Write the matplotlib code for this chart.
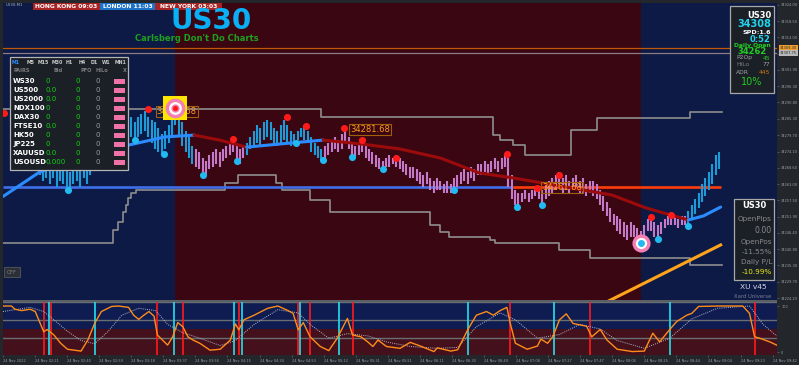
import numpy as np
import matplotlib
matplotlib.use('Agg')
from matplotlib import pyplot as plt
from matplotlib.patches import Rectangle
from matplotlib.transforms import blended_transform_factory

# ---------------- data ----------------
# M1 bars, one drawn every 2 bars, starting at bar 22
bar_start = 22
bar_high = [
    34272, 34271, 34273, 34270, 34272, 34269, 34271, 34268, 34270, 34267,
    34270, 34272, 34271, 34273, 34270, 34272, 34274, 34275, 34277, 34278,
    34279, 34280, 34281, 34280, 34282, 34283, 34285, 34286, 34284, 34286,
    34287, 34288, 34286, 34285, 34284, 34282, 34280, 34281, 34283, 34286,
    34291, 34288, 34284, 34281, 34279, 34276, 34275, 34274, 34272, 34271,
    34273, 34274, 34275, 34274, 34275, 34276, 34277, 34278, 34276, 34275,
    34276, 34277, 34279, 34281, 34283, 34282, 34284, 34285, 34284, 34282,
    34281, 34283, 34285, 34283, 34281, 34280, 34281, 34282, 34283, 34281,
    34279, 34277, 34276, 34275, 34276, 34277, 34278, 34279, 34278, 34280,
    34282, 34279, 34277, 34276, 34277, 34278, 34276, 34275, 34274, 34273,
    34272, 34271, 34272, 34273, 34272, 34273, 34272, 34271, 34270, 34269,
    34269, 34268, 34267, 34266, 34267, 34265, 34264, 34265, 34264, 34263,
    34264, 34263, 34265, 34266, 34267, 34268, 34267, 34269, 34268, 34270,
    34270, 34271, 34270, 34271, 34272, 34271, 34272, 34273, 34272, 34266,
    34261, 34260, 34260, 34261, 34260, 34261, 34262, 34262, 34261, 34263,
    34264, 34265, 34266, 34267, 34265, 34266, 34264, 34265, 34266, 34264,
    34265, 34263, 34264, 34264, 34263, 34261, 34259, 34257, 34255, 34253,
    34252, 34251, 34250, 34249, 34250, 34249, 34248, 34247, 34249, 34251,
    34252, 34250, 34249, 34250, 34251, 34252, 34253, 34252, 34251, 34252,
    34252, 34254, 34256, 34258, 34260, 34263, 34265, 34267, 34270, 34273, 34274,
]
bar_low = [
    34266, 34264, 34265, 34263, 34265, 34262, 34264, 34263, 34262, 34261,
    34263, 34264, 34262, 34265, 34263, 34266, 34268, 34270, 34271, 34272,
    34273, 34274, 34275, 34274, 34276, 34277, 34278, 34279, 34277, 34279,
    34280, 34281, 34279, 34277, 34275, 34274, 34273, 34275, 34277, 34279,
    34283, 34279, 34276, 34274, 34272, 34270, 34269, 34268, 34267, 34266,
    34268, 34269, 34270, 34269, 34271, 34272, 34273, 34274, 34271, 34270,
    34272, 34273, 34275, 34276, 34277, 34276, 34278, 34279, 34278, 34276,
    34276, 34277, 34278, 34277, 34276, 34277, 34278, 34279, 34278, 34277,
    34274, 34273, 34272, 34271, 34272, 34273, 34274, 34275, 34274, 34275,
    34277, 34275, 34273, 34272, 34273, 34274, 34272, 34271, 34270, 34269,
    34268, 34268, 34269, 34269, 34270, 34269, 34268, 34267, 34266, 34265,
    34265, 34264, 34263, 34262, 34263, 34261, 34260, 34261, 34261, 34260,
    34260, 34260, 34261, 34262, 34263, 34264, 34263, 34265, 34264, 34266,
    34266, 34267, 34266, 34267, 34268, 34267, 34268, 34269, 34262, 34258,
    34256, 34256, 34257, 34258, 34257, 34258, 34259, 34258, 34256, 34258,
    34259, 34260, 34261, 34262, 34260, 34261, 34260, 34261, 34262, 34260,
    34260, 34259, 34260, 34259, 34258, 34256, 34254, 34252, 34250, 34249,
    34247, 34246, 34245, 34244, 34245, 34245, 34244, 34243, 34245, 34247,
    34247, 34245, 34244, 34246, 34248, 34249, 34249, 34249, 34248, 34249,
    34249, 34249, 34251, 34253, 34255, 34257, 34259, 34261, 34263, 34266, 34268,
]

# trend regimes (bar index where each starts)
trend_start = [0, 113, 144, 189, 404]
trend_up = [True, False, True, False, True]

# moving average
ma_idx = [0, 22, 46, 69, 96, 113, 128, 144, 164, 189, 211, 234, 258, 281, 301,
          322, 359, 379, 404, 413, 423]
ma_price = [34258.6, 34267.1, 34271.9, 34275.6, 34279.1, 34279.7, 34278.0,
            34275.6, 34276.7, 34278.0, 34276.7, 34275.0, 34271.9, 34266.8,
            34265.1, 34263.0, 34259.3, 34254.9, 34250.8, 34252.2, 34255.2]

# swing highs / lows
red_idx = [1, 86, 136, 168, 179, 201, 212, 232, 297, 315, 328, 382, 394]
red_price = [34287.2, 34288.5, 34278.4, 34285.9, 34282.8, 34282.1, 34278.0,
             34271.9, 34273.2, 34261.7, 34266.1, 34251.8, 34252.5]
blue_idx = [39, 78, 95, 118, 138, 173, 189, 206, 224, 266, 303, 318, 386, 404]
blue_price = [34261.0, 34278.0, 34273.3, 34266.1, 34270.9, 34277.0, 34271.2,
              34272.2, 34268.2, 34261.0, 34255.2, 34255.9, 34244.3, 34248.8]

# step bands
upper_idx = [0, 188, 289, 293, 301, 308, 335, 350, 405, 424]
upper_price = [34288.6, 34285.9, 34279.7, 34278.0, 34276.3, 34272.9, 34281.4,
               34285.5, 34287.6, 34287.6]
lower_idx = [0, 65, 68, 71, 73, 74, 76, 79, 131, 139, 161, 165, 181, 193, 252,
             258, 263, 287, 290, 328, 346, 405, 424]
lower_price = [34243.0, 34247.4, 34250.1, 34253.5, 34255.9, 34258.3, 34260.0,
               34261.0, 34263.4, 34266.1, 34263.4, 34261.0, 34257.6, 34253.5,
               34249.1, 34246.7, 34245.0, 34244.0, 34243.0, 34240.6, 34237.9,
               34235.5, 34235.5]

trend_line_idx = [356, 423]
trend_line_price = [34222.9, 34242.3]

open_price = 34262.0
open_switch = 301
level_orange = 34309.30
level_grey = 34307.75

targets = [(102, 34288.9), (376, 34243.0)]
price_tags = [(91, 34287.6, '34288.68'), (205, 34281.7, '34281.68'),
              (318, 34262.0, '34261.68')]

session_edges = [0.5, 102, 376, 456.2]
session_colors = ['#0c1a45', '#3a0612', '#0c1a45']

price_ticks = [34324.00, 34318.50, 34313.00, 34307.40, 34301.90, 34296.30,
               34290.80, 34285.30, 34279.70, 34274.10, 34268.60, 34263.00,
               34257.50, 34251.90, 34246.40, 34240.80, 34235.30, 34229.70,
               34224.20]

time_labels = ['24 Nov 2022', '24 Nov 02:21', '24 Nov 02:40', '24 Nov 02:59',
               '24 Nov 03:18', '24 Nov 03:37', '24 Nov 03:56', '24 Nov 04:15',
               '24 Nov 04:34', '24 Nov 04:53', '24 Nov 05:12', '24 Nov 05:31',
               '24 Nov 05:51', '24 Nov 06:11', '24 Nov 06:30', '24 Nov 06:49',
               '24 Nov 07:08', '24 Nov 07:27', '24 Nov 07:47', '24 Nov 08:06',
               '24 Nov 08:25', '24 Nov 08:44', '24 Nov 09:04', '24 Nov 09:23',
               '24 Nov 09:42']
bars_per_label = 18.9

# oscillator (bar index, value)
osc_line = [(0, 100), (5, 100), (7, 93), (11, 90), (16, 93), (19, 88), (24, 44),
            (26, 49), (30, 37), (34, 19), (38, 6), (46, 2), (50, 26), (54, 62),
            (58, 88), (64, 99), (68, 100), (74, 97), (77, 80), (80, 71), (83, 80),
            (86, 88), (89, 78), (91, 37), (97, 15), (100, 33), (103, 64), (106, 55),
            (109, 33), (112, 26), (116, 19), (122, 4), (128, 6), (134, 26), (137, 61),
            (139, 48), (142, 70), (148, 80), (156, 95), (162, 100), (168, 90),
            (171, 84), (174, 48), (177, 64), (181, 33), (187, 12), (192, 3), (197, 30),
            (203, 73), (206, 37), (211, 33), (215, 22), (218, 12), (221, 26), (226, 12),
            (234, 8), (240, 21), (246, 13), (254, 1), (256, 9), (264, 2), (268, 5),
            (274, 49), (279, 80), (285, 88), (289, 80), (293, 90), (297, 97), (299, 62),
            (302, 19), (309, 6), (315, 13), (317, 28), (321, 19), (324, 33), (328, 70),
            (332, 83), (336, 62), (344, 56), (347, 33), (352, 49), (356, 26), (362, 6),
            (371, 1), (378, 2), (383, 41), (387, 22), (393, 49), (397, 66), (403, 80),
            (406, 84), (410, 99), (421, 100), (436, 100), (440, 84), (443, 33),
            (446, 30), (452, 22), (456, 15)]
osc_signal = [(0, 88), (16, 97), (24, 88), (30, 70), (38, 45), (46, 25), (54, 18),
              (62, 45), (70, 80), (80, 95), (90, 90), (97, 60), (106, 42), (116, 30),
              (128, 14), (137, 25), (148, 60), (162, 92), (174, 85), (181, 60),
              (192, 30), (203, 40), (215, 35), (226, 22), (240, 12), (256, 8),
              (268, 10), (279, 55), (293, 85), (302, 70), (315, 30), (328, 38),
              (340, 60), (352, 50), (362, 25), (378, 8), (393, 30), (406, 72),
              (421, 95), (440, 100), (448, 60), (456, 35)]
cross_idx = [24, 27, 28, 54, 91, 101, 106, 136, 139, 141, 174, 175, 181, 198,
             206, 274, 299, 325, 346, 393, 443]
cross_up = [False, True, False, True, False, True, False, True, False, True,
            False, True, False, True, False, True, False, True, False, True, False]

# dashboard texts
tf_names = ['M1', 'M5', 'M15', 'M30', 'H1', 'H4', 'D1', 'W1', 'MN1']
pairs = ['WS30', 'US500', 'US2000', 'NDX100', 'DAX30', 'FTSE10', 'HK50',
         'JP225', 'XAUUSD', 'USOUSD']
pair_bid = ['0', '0.0', '0.0', '0', '0', '0.0', '0', '0', '0.0', '0.000']
pair_pfo = ['0'] * 10
pair_hilo = ['0'] * 10
sessions = [('HONG KONG 09:03', '#a82424'), ('LONDON 11:03', '#1e72c8'),
            ('NEW YORK 03:03', '#a82424')]

# ---------------- figure ----------------
W, H = 799, 365
fig = plt.figure(figsize=(W / 100, H / 100), dpi=100, facecolor='#23272c')


def fx(px):
    return px / W


def fy(py):
    return 1 - py / H


def ftext(px, py, s, **kw):
    kw.setdefault('ha', 'left')
    kw.setdefault('va', 'center')
    fig.text(fx(px), fy(py), s, **kw)


def frect(x0, y0, x1, y1, **kw):
    fig.patches.append(Rectangle((fx(x0), fy(y1)), fx(x1) - fx(x0), fy(y0) - fy(y1),
                                 transform=fig.transFigure, figure=fig, **kw))


CYAN = '#1d9bd9'
PINK = '#c479c9'
GRID_TXT = '#9aa0a6'

# main price pane
ax = fig.add_axes([fx(3), fy(300), fx(777) - fx(3), fy(3) - fy(300)])
ax.set_xlim(0.5, 456.2)
ax.set_ylim(34223.55, 34324.68)
for s in ax.spines.values():
    s.set_visible(False)
for i in range(len(session_colors)):
    ax.axvspan(session_edges[i], session_edges[i + 1], color=session_colors[i], lw=0, zorder=0)

ax.axhline(level_orange, color='#c0580a', lw=0.9, zorder=1)
ax.axhline(level_grey, color='#8c7d84', lw=0.9, zorder=1)

ax.step(upper_idx, upper_price, where='post', color='#8e8e8e', lw=1.2, zorder=2)
ax.step(lower_idx, lower_price, where='post', color='#8e8e8e', lw=1.2, zorder=2)

xl = ax.get_xlim()[0]
ax.hlines(open_price, xl, open_switch, color='#3f6fe8', lw=1.9, zorder=3)
ax.hlines(open_price, open_switch, 423, color='#ff3d0a', lw=1.9, zorder=3)

bar_idx = bar_start + 2 * np.arange(len(bar_high))
reg = np.searchsorted(trend_start, bar_idx, side='right') - 1
bar_col = np.where(np.array(trend_up)[reg], CYAN, PINK)
ax.vlines(bar_idx, bar_low, bar_high, colors=bar_col, lw=1.5, zorder=4)

ma_x = np.array(ma_idx)
ma_y = np.array(ma_price)
edges = trend_start + [ma_idx[-1]]
for k in range(len(trend_start)):
    m = (ma_x >= edges[k]) & (ma_x <= edges[k + 1])
    ax.plot(ma_x[m], ma_y[m], color='#2a8cff' if trend_up[k] else '#9c0b0b',
            lw=2.2, zorder=5, solid_capstyle='round')

ax.plot(trend_line_idx, trend_line_price, color='#ffa41b', lw=2.2, zorder=5)

ax.scatter(red_idx, red_price, s=26, color='#ff1a1a', zorder=7, lw=0)
ax.scatter(blue_idx, blue_price, s=26, color='#22b8f0', zorder=7, lw=0)

for bx, by, txt in price_tags:
    ax.text(bx, by, txt, color='#ff9a1a', fontsize=6, va='center', ha='left', zorder=6,
            bbox=dict(boxstyle='square,pad=0.12', fc='none', ec='#a0600a', lw=0.8))

# target markers
tx, ty = targets[0]
ax.scatter([tx], [ty], s=300, marker='s', color='#ffe600', zorder=8, lw=0)
ax.scatter([tx], [ty], s=200, color='#f47fb4', zorder=9, lw=0)
ax.scatter([tx], [ty], s=85, color='white', zorder=10, lw=0)
ax.scatter([tx], [ty], s=35, color='#f47fb4', zorder=11, lw=0)
ax.scatter([tx], [ty], s=14, color='#ff1a1a', zorder=12, lw=0)
tx, ty = targets[1]
ax.scatter([tx], [ty], s=170, color='#f47fb4', zorder=9, lw=0)
ax.scatter([tx], [ty], s=65, color='white', zorder=10, lw=0)
ax.scatter([tx], [ty], s=25, color='#22b8f0', zorder=11, lw=0)

ax.set_xticks([])
ax.yaxis.tick_right()
ax.set_yticks(price_ticks)
ax.set_yticklabels([f'{p:.2f}' for p in price_ticks])
ax.tick_params(axis='y', labelsize=2.6, labelcolor=GRID_TXT, length=1.5, width=0.4,
               color='#777777', pad=1.5)

tr = blended_transform_factory(ax.transAxes, ax.transData)
ax.text(1.004, level_orange, f'{level_orange:.2f}', transform=tr, fontsize=2.6,
        color='#222222', va='center', ha='left', clip_on=False,
        bbox=dict(boxstyle='square,pad=0.25', fc='#f0a030', ec='none'))
ax.text(1.004, level_grey, f'{level_grey:.2f}', transform=tr, fontsize=2.6,
        color='#222222', va='center', ha='left', clip_on=False,
        bbox=dict(boxstyle='square,pad=0.25', fc='#b8b8b8', ec='none'))

# oscillator pane
ax2 = fig.add_axes([fx(3), fy(355), fx(777) - fx(3), fy(302) - fy(355)])
ax2.set_xlim(0.5, 456.2)
ax2.set_ylim(-6.5, 108.7)
for s in ax2.spines.values():
    s.set_visible(False)
ax2.axhspan(50, 108.7, color='#0e1c52', lw=0, zorder=0)
ax2.axhspan(-6.5, 50, color='#43101c', lw=0, zorder=0)
for lvl in (108.7, 70, 30):
    ax2.axhline(lvl, color='#6a6e72', lw=1.0, zorder=1)
ax2.vlines(cross_idx, -6.5, 108.7, colors=['#22e0ee' if u else '#ff1a1a' for u in cross_up],
           lw=1.2, zorder=2)
sx, sv = zip(*osc_signal)
ax2.plot(sx, sv, color='#b8b8c8', lw=0.7, ls=(0, (1, 1.2)), zorder=3)
ox, ov = zip(*osc_line)
ax2.plot(ox, ov, color='#ff8c1a', lw=1.0, zorder=4)

ax2.yaxis.tick_right()
ax2.set_yticks([0, 100])
ax2.set_yticklabels(['0', '100'])
ax2.set_xticks(bars_per_label * np.arange(len(time_labels)))
ax2.set_xticklabels(time_labels, ha='left')
ax2.tick_params(axis='both', labelsize=2.5, labelcolor=GRID_TXT, length=1.5, width=0.4,
                color='#777777', pad=1.5)

# separator between panes
frect(3, 300, 777, 302, fc='#5a5f66', ec='none')

# ---------------- overlays ----------------
ftext(6, 5, 'US30,M1', fontsize=2.8, color='#b0b4ba')

sx0 = [33, 100, 155, 222]
for i, (lab, col) in enumerate(sessions):
    frect(sx0[i], 3, sx0[i + 1], 10, fc=col, ec='none')
    ftext((sx0[i] + sx0[i + 1]) / 2, 6.5, lab, ha='center', fontsize=4.3,
          color='white', fontweight='bold')

ftext(211, 21, 'US30', ha='center', fontsize=20, color='#09b0f5', fontweight='bold')
ftext(197, 38.5, "Carlsberg Don't Do Charts", ha='center', fontsize=6,
      color='#1ea01e', fontweight='bold')

# left dashboard
frect(10, 57, 128, 170, fc='#1b2027', ec='#b4b4b4', lw=0.9)
tf_x = [16, 31, 43, 57, 69, 82, 94, 106, 121]
for i, t in enumerate(tf_names):
    ftext(tf_x[i], 62, t, ha='center', fontsize=3.4, fontweight='bold',
          color='#2b8cff' if i == 0 else '#c8c8c8')
ftext(13, 71, 'PAIRS', fontsize=3.6, fontweight='bold', color='#7d7d7d')
ftext(58, 71, 'Bid', ha='center', fontsize=3.6, fontweight='bold', color='#7d7d7d')
ftext(86, 71, 'PFO', ha='center', fontsize=3.6, fontweight='bold', color='#7d7d7d')
ftext(102, 71, 'HiLo', ha='center', fontsize=3.6, fontweight='bold', color='#7d7d7d')
ftext(125, 71, 'X', ha='center', fontsize=3.6, fontweight='bold', color='#7d7d7d')
for i, name in enumerate(pairs):
    yy = 81 + 9.05 * i
    ftext(13, yy, name, fontsize=5, fontweight='bold', color='white')
    ftext(46, yy, pair_bid[i], fontsize=5, color='#10d010')
    ftext(75, yy, pair_pfo[i], fontsize=5, color='#10d010')
    ftext(95, yy, pair_hilo[i], fontsize=5, color='#9a9a9a')
    frect(114, yy - 2.5, 125, yy + 2.5, fc='#f070a8', ec='none')

# top right info panel
frect(730, 6, 774, 93, fc='#1b2027', ec='#a8a8a8', lw=0.9)
ftext(771, 15, 'US30', ha='right', fontsize=6, fontweight='bold', color='white')
ftext(771, 24, '34308', ha='right', fontsize=7, fontweight='bold', color='#22d3ee')
ftext(771, 32, 'SPD:1.6', ha='right', fontsize=4.6, fontweight='bold', color='white')
ftext(771, 39, '0:52', ha='right', fontsize=6, fontweight='bold', color='#22d3ee')
ftext(752, 45.5, 'Daily Open', ha='center', fontsize=4.3, fontweight='bold', color='#22cc22')
ftext(752, 52, '34262', ha='center', fontsize=6, fontweight='bold', color='#22cc22')
ftext(736, 58, 'P2Op', fontsize=4.3, color='#a0a0a0')
ftext(770, 58, '45', ha='right', fontsize=4.3, color='#22cc22')
ftext(736, 65, 'HiLo', fontsize=4.3, color='#808080')
ftext(770, 65, '77', ha='right', fontsize=4.3, color='#a0a0a0')
ftext(736, 72, 'ADR', fontsize=4.3, color='#a0a0a0')
ftext(770, 72, '445', ha='right', fontsize=4.3, color='#c87a10')
ftext(752, 82, '10%', ha='center', fontsize=7, color='#22cc22')

# lower right P/L panel
frect(734, 199, 774, 280, fc='#1b2027', ec='#a8a8a8', lw=0.9)
ftext(754, 206, 'US30', ha='center', fontsize=6, fontweight='bold', color='white')
ftext(772, 219, 'OpenPips', ha='right', fontsize=5.2, color='#8a8a8a')
ftext(772, 231, '0.00', ha='right', fontsize=5.6, color='#8a8a8a')
ftext(772, 242, 'OpenPos', ha='right', fontsize=5.2, color='#8a8a8a')
ftext(772, 252, '-11.55%', ha='right', fontsize=5.2, color='#8a8a8a')
ftext(772, 262, 'Daily P/L', ha='right', fontsize=5.2, color='#8a8a8a')
ftext(772, 272, '-10.99%', ha='right', fontsize=5.2, color='#e8e820')
ftext(753, 287, 'XU v45', ha='center', fontsize=5.4, color='#d8d8e8')
ftext(753, 297, 'Xard Universe', ha='center', fontsize=3.8, color='#7a7e90')

# OFF button
frect(4, 267, 20, 277, fc='#2c3036', ec='#4a4e55', lw=0.8)
ftext(12, 272, 'OFF', ha='center', fontsize=3.8, color='#7a7e85')

fig.savefig('out.png', dpi=100, facecolor=fig.get_facecolor())
